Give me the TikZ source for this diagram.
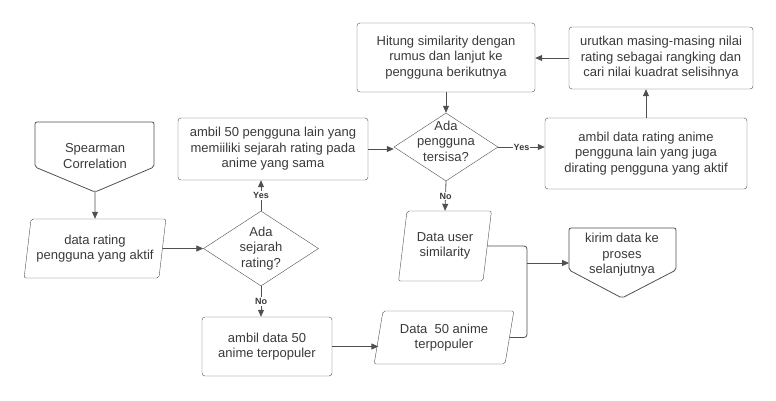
\documentclass[tikz,border=0pt]{standalone}
\usepackage{fontspec}
\setmainfont{Liberation Sans}
\usetikzlibrary{shapes.geometric,arrows.meta}

\definecolor{ink}{HTML}{3A3A3A}
\definecolor{edge}{HTML}{505050}

\tikzset{
  txt/.style={text=ink, align=center, font=\fontsize{13}{15.5}\selectfont},
  box/.style={txt, draw=edge, rounded corners=3pt, inner sep=0pt},
  io/.style={txt, draw=edge, trapezium, trapezium left angle=77, trapezium right angle=103,
    trapezium stretches=true, rounded corners=2pt, inner sep=0pt},
  decision/.style={draw=edge, diamond, inner sep=0pt},
  line/.style={draw=edge, line width=0.8pt},
  arrow/.style={line, -{Triangle[length=7pt,width=6pt]}},
  tag/.style={fill=white, text=ink, inner sep=1pt, font=\fontsize{9}{10}\selectfont\bfseries}
}

\begin{document}
\begin{tikzpicture}[x=1pt,y=-1pt]
 \useasboundingbox (0,0) rectangle (776,400);

 % start: off-page connector
 \draw[line, rounded corners=2pt] (35,122) -- (154,122) -- (154,167) -- (95,192) -- (35,167) -- cycle;
 \node[txt] (spear) at (95,156) {Spearman\\Correlation};
 \coordinate (spearTip) at (95,192);

 \node[io, minimum width=142pt, minimum height=59pt] (rating) at (95,248.5) {data rating\\pengguna yang aktif};
 \node[decision, minimum width=115pt, minimum height=75pt,
   label={[txt]center:{Ada\\sejarah\\rating?}}] (hist) at (261,248.5) {};
 \node[box, minimum width=190pt, minimum height=62pt] (others) at (273,149) {ambil 50 pengguna lain yang\\memiiliki sejarah rating pada\\anime yang sama};
 \node[box, minimum width=130pt, minimum height=59pt] (popular) at (267,346.5) {ambil data 50\\anime terpopuler};
 \node[io, minimum width=140pt, minimum height=53pt] (popData) at (444,337.5) {Data\ \ 50 anime\\terpopuler};

 % loop over the other users
 \node[box, minimum width=178pt, minimum height=69pt] (calc) at (446,57.5) {Hitung similarity dengan\\rumus dan lanjut ke\\pengguna berikutnya};
 \node[decision, minimum width=104pt, minimum height=68pt,
   label={[txt, yshift=6pt]center:{Ada\\pengguna\\tersisa?}}] (left) at (446,147) {};
 \node[box, minimum width=202pt, minimum height=71pt] (ratings) at (646,153.5) {ambil data rating anime\\pengguna lain yang juga\\dirating pengguna yang aktif};
 \node[box, minimum width=184pt, minimum height=62pt] (rank) at (661,58) {urutkan masing-masing nilai\\rating sebagai rangking dan\\cari nilai kuadrat selisihnya};
 \node[io, minimum width=93pt, minimum height=70pt] (simData) at (445,246) {Data user\\similarity};

 % end: off-page connector
 \draw[line, rounded corners=2pt] (569,228) -- (676,228) -- (676,270) -- (622,298) -- (569,270) -- cycle;
 \node[txt] (next) at (622,255) {kirim data ke\\proses\\selanjutnya};
 \coordinate (nextIn) at (569,263);
 \coordinate (merge) at (527,263);

 \draw[arrow] (spearTip) -- (rating.north);
 \draw[arrow] (rating.east) -- (hist.west);
 \draw[arrow] (hist.north) -- node[tag] {Yes} (hist.north |- others.south);
 \draw[arrow] (hist.south) -- node[tag] {No} (hist.south |- popular.north);
 \draw[arrow] (popular.east) -- (popular.east -| popData.west);
 \draw[arrow] (others.east) -- (others.east -| left.west);
 \draw[arrow] (calc.south) -- (left.north);
 \draw[arrow] (left.east) -- node[tag] {Yes} (left.east -| ratings.west);
 \draw[arrow] (left.south) -- node[tag] {No} (simData.north);
 \draw[arrow] (ratings.north) -- (ratings.north |- rank.south);
 \draw[arrow] (rank.west) -- (rank.west -| calc.east);
 \draw[line, rounded corners=3pt] (simData.east) -| (merge);
 \draw[line, rounded corners=3pt] (popData.east) -| (merge);
 \draw[arrow] (merge) -- (nextIn);

\end{tikzpicture}
\end{document}
